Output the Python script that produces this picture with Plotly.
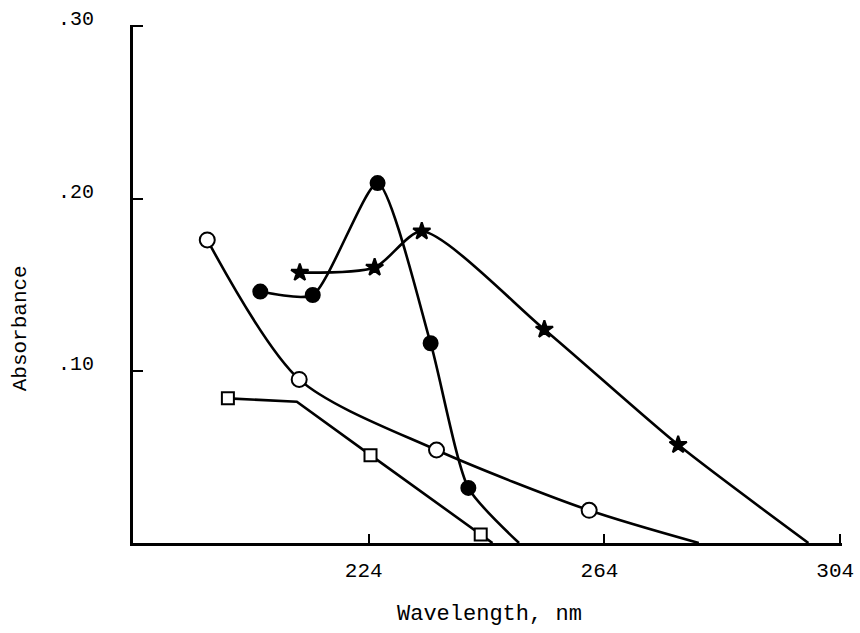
import plotly.graph_objects as go

# Open circles
open_circle_wl = [196.6, 212.2, 235.5, 261.4, 280.0]
open_circle_abs = [0.176, 0.095, 0.054, 0.019, 0.0]
open_circle_mark = [True, True, True, True, False]

# Filled circles
filled_wl = [205.6, 214.5, 225.5, 234.5, 240.9, 249.5]
filled_abs = [0.146, 0.144, 0.209, 0.116, 0.032, 0.0]
filled_mark = [True, True, True, True, True, False]

# Stars
star_wl = [212.3, 225.0, 233.0, 253.8, 276.5, 298.6]
star_abs = [0.157, 0.160, 0.181, 0.124, 0.057, 0.0]
star_mark = [True, True, True, True, True, False]

# Open squares
square_wl = [200.1, 211.8, 224.3, 243.0, 245.0]
square_abs = [0.084, 0.082, 0.051, 0.005, 0.0]
square_mark = [True, False, True, True, False]

x_ticks = [224, 264, 304]
y_ticks = [0.10, 0.20, 0.30]
y_tick_text = [".10", ".20", ".30"]

FONT = "Liberation Mono, DejaVu Sans Mono, monospace"

fig = go.Figure()


def add_series(wl, ab, mark, symbol, size, fill, shape, smoothing):
    fig.add_trace(go.Scatter(
        x=wl, y=ab, mode="lines",
        line=dict(color="black", width=2.6, shape=shape, smoothing=smoothing),
        hoverinfo="skip", showlegend=False, cliponaxis=False))
    mx = [x for x, m in zip(wl, mark) if m]
    my = [y for y, m in zip(ab, mark) if m]
    fig.add_trace(go.Scatter(
        x=mx, y=my, mode="markers",
        marker=dict(symbol=symbol, size=size, color=fill,
                    line=dict(color="black", width=2)),
        showlegend=False, cliponaxis=False))


add_series(open_circle_wl, open_circle_abs, open_circle_mark, "circle", 15, "white", "spline", 0.8)
add_series(square_wl, square_abs, square_mark, "square", 12, "white", "linear", 0)
add_series(filled_wl, filled_abs, filled_mark, "circle", 14, "black", "spline", 0.6)
add_series(star_wl, star_abs, star_mark, "star", 13, "black", "spline", 0.7)

fig.update_layout(
    width=860, height=633,
    margin=dict(l=133, r=18, t=25, b=90, autoexpand=False),
    paper_bgcolor="white", plot_bgcolor="white",
    font=dict(family=FONT, size=20, color="black"),
    xaxis=dict(range=[184, 304.3], tickvals=x_ticks, ticktext=[str(v) for v in x_ticks],
               ticks="inside", ticklen=9, tickwidth=2, tickcolor="black",
               showline=True, linewidth=3, linecolor="black", automargin=False,
               showgrid=False, zeroline=False, ticklabelstandoff=6, ticklabelshift=-5,
               tickfont=dict(family=FONT, size=21)),
    yaxis=dict(range=[0, 0.3008], tickvals=y_ticks, ticktext=y_tick_text,
               ticks="inside", ticklen=10, tickwidth=2, tickcolor="black",
               showline=True, linewidth=3, linecolor="black", automargin=False,
               showgrid=False, zeroline=False, ticklabelstandoff=32, ticklabelshift=-8,
               tickfont=dict(family=FONT, size=20)),
    annotations=[
        dict(text="Wavelength, nm", xref="paper", yref="paper", x=0.503, y=-0.138,
             showarrow=False, font=dict(family=FONT, size=22), yanchor="middle", xanchor="center"),
        dict(text="Absorbance", xref="paper", yref="paper", x=-0.159, y=0.415,
             showarrow=False, textangle=-90, font=dict(family=FONT, size=21),
             xanchor="center", yanchor="middle"),
    ],
)

fig.write_html("out.html")
